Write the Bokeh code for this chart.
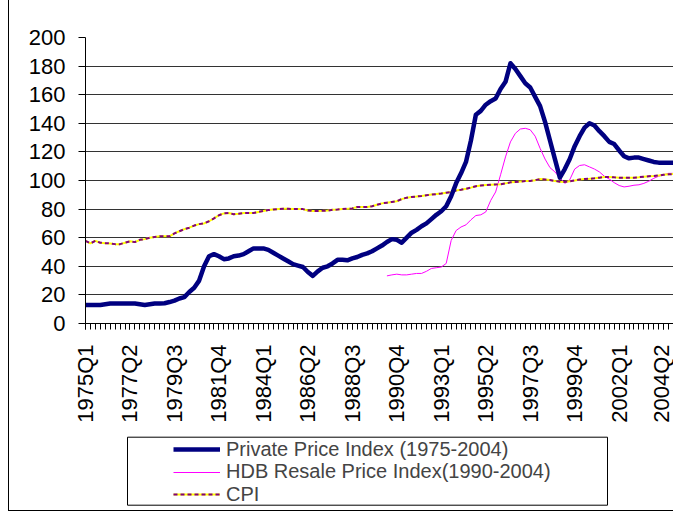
import math
from bokeh.plotting import figure
from bokeh.layouts import column
from bokeh.models import FixedTicker, Legend, LegendItem, Range1d, BoxAnnotation
from bokeh.embed import file_html
from bokeh.resources import INLINE

# ---------------- data ----------------
quarters = [f"{y}Q{q}" for y in range(1975, 2005) for q in range(1, 5)]  # 1975Q1 .. 2004Q4

private_index = [
    13, 13, 13, 13, 13.5, 14, 14, 14, 14, 14,
    14, 13.5, 13, 13.5, 14, 14, 14.2, 15, 16, 17.5,
    18.5, 22, 25, 30, 40, 47, 48.5, 47, 45, 45.5,
    47, 47.5, 48.5, 50.5, 52.5, 52.5, 52.5, 51.5, 49.5, 47.5,
    45.5, 43.5, 41.5, 40.5, 39.5, 36, 33.3, 36.5, 39, 40,
    42, 44.5, 44.5, 44.2, 45.5, 46.5, 48, 49, 50.5, 52.5,
    54.5, 57, 59, 58.5, 56.5, 60, 63.5, 65.5, 68, 70,
    73, 76, 78.5, 82, 89, 98, 105, 113, 128, 146,
    148.7, 153, 155.5, 157.3, 164, 169, 182, 178, 173, 168,
    165, 158.5, 152, 141, 128, 115, 102, 108, 115, 124,
    131, 137, 140, 138.5, 134.5, 131, 127, 125.5, 121, 117,
    115.5, 116, 116, 115, 114, 113, 112.5, 112.5, 112.5, 112.5,
]

hdb_start = "1990Q2"
hdb_index = [
    33.3, 34, 34.5, 34, 34, 34.5, 35, 35, 36.5,
    38.5, 39, 39.5, 42, 58, 65, 67.5, 69, 72.5, 75.5,
    76, 78, 86, 92, 104, 116.5, 127, 133, 136, 136.5,
    135.5, 131, 122.5, 115, 109, 106, 102, 98, 100.5, 108,
    110.5, 111, 109.5, 108, 106, 103, 101, 98.5, 96.5, 95.5,
    96, 96.7, 97, 98, 99.5, 101.5, 103, 104, 105, 105,
]

cpi = [
    57.8, 56, 57.8, 56.5, 56.2, 56, 55.5, 55.5, 56.5, 57.5,
    56.9, 58.5, 59, 60, 60.5, 61, 61, 61, 63, 64.5,
    66, 67, 68.5, 69.5, 70, 71.5, 73.5, 75.7, 77, 77.3,
    76.4, 76.8, 77.3, 77.3, 77.3, 78, 78.7, 79.3, 79.7, 80,
    80.2, 80.2, 80, 80, 80, 79, 78.7, 78.7, 78.8, 79,
    79.5, 79.7, 80, 80.2, 80.5, 81.5, 81.5, 81.5, 82, 83,
    84, 84.5, 85, 85.5, 87, 88, 88.5, 88.8, 89.2, 89.7,
    90.2, 90.5, 90.9, 91.5, 92, 93, 93.5, 94.2, 95, 96,
    96.5, 96.8, 97, 97.2, 97.4, 98, 98.7, 99, 99.3, 99.6,
    99.7, 100.2, 101, 100.7, 100.3, 99.7, 99.2, 99, 99.5, 100,
    100.7, 101, 101.2, 101.5, 102, 102.5, 102.5, 102.2, 102, 102,
    102, 102, 102.3, 102.7, 103, 103.2, 103.5, 104, 104.3, 104.5,
]

y_ticks = [0, 20, 40, 60, 80, 100, 120, 140, 160, 180, 200]
label_step = 9

series_labels = ["Private Price Index (1975-2004)",
                 "HDB Resale Price Index(1990-2004)",
                 "CPI"]

font = "Liberation Sans"
PRIV_COLOR, HDB_COLOR = "#000080", "#FF00FF"
CPI_COLOR, CPI_BACK = "#800080", "#FFFF00"

# ---------------- main chart ----------------
x_idx = list(range(len(quarters)))
hdb_x0 = quarters.index(hdb_start)
hdb_x = list(range(hdb_x0, hdb_x0 + len(hdb_index)))

p = figure(width=665, height=430, output_backend="svg", toolbar_location=None,
           x_range=Range1d(0, 119.2), y_range=Range1d(0, 200),
           min_border_left=76, min_border_right=0, min_border_top=37,
           min_border_bottom=107)
p.styles = {"margin-left": "8px", "border-left": "1px solid black"}
p.outline_line_color = None

p.xgrid.visible = False
p.ygrid.ticker = FixedTicker(ticks=y_ticks)
p.ygrid.grid_line_color = "#333333"
p.ygrid.grid_line_width = 1

yax = p.yaxis[0]
yax.ticker = FixedTicker(ticks=y_ticks)
yax.axis_line_color = "black"
yax.major_tick_out = 7
yax.major_tick_in = 0
yax.minor_tick_line_color = None
yax.major_label_text_font = font
yax.major_label_text_font_size = "22px"
yax.major_label_text_color = "black"
yax.major_label_standoff = 13

xax = p.xaxis[0]
label_ticks = x_idx[::label_step]
xax.ticker = FixedTicker(ticks=label_ticks, minor_ticks=x_idx)
xax.major_label_overrides = {t: quarters[t] for t in label_ticks}
xax.major_label_orientation = math.pi / 2
xax.axis_line_color = "black"
xax.major_tick_out = 6
xax.major_tick_in = 0
xax.minor_tick_out = 6
xax.minor_tick_in = 0
xax.major_label_text_font = font
xax.major_label_text_font_size = "22px"
xax.major_label_text_color = "black"
xax.major_label_standoff = 15

p.line(hdb_x, hdb_index, line_color=HDB_COLOR, line_width=1)
p.line(x_idx, cpi, line_color=CPI_BACK, line_width=2)
p.line(x_idx, cpi, line_color=CPI_COLOR, line_width=2, line_dash="4 3")
p.line(x_idx, private_index, line_color=PRIV_COLOR, line_width=4.5, line_join="round")

# ---------------- legend panel ----------------
# frame of this panel spans the same width as the chart frame (1 unit = 1 px)
lg = figure(width=665, height=81, output_backend="svg", toolbar_location=None,
            x_range=Range1d(0, 589), y_range=Range1d(0, 81),
            x_axis_type=None, y_axis_type=None,
            min_border_left=76, min_border_right=0, min_border_top=0,
            min_border_bottom=0)
lg.styles = {"margin-left": "8px", "border-left": "1px solid black",
             "border-bottom": "1px solid black"}
lg.grid.visible = False
lg.outline_line_color = None

legend_box = BoxAnnotation(left=42, right=522, top=74.3, bottom=6.3,
                           fill_alpha=0, line_color="black", line_width=1,
                           line_alpha=1)
lg.add_layout(legend_box)

nan = float("nan")
k_priv = lg.line([nan], [nan], line_color=PRIV_COLOR, line_width=4.5)
k_hdb = lg.line([nan], [nan], line_color=HDB_COLOR, line_width=1)
k_cpi_y = lg.line([nan], [nan], line_color=CPI_BACK, line_width=2)
k_cpi_p = lg.line([nan], [nan], line_color=CPI_COLOR, line_width=2, line_dash="4 3")

entries = [
    (series_labels[0], [k_priv], 50.3),
    (series_labels[1], [k_hdb], 27.8),
    (series_labels[2], [k_cpi_y, k_cpi_p], 5.3),
]
for label, rends, ypos in entries:
    leg = Legend(items=[LegendItem(label=label, renderers=rends)],
                 location=(88, ypos), padding=0, spacing=0, margin=0,
                 glyph_width=47, glyph_height=20, label_height=20,
                 label_standoff=6, label_text_font=font,
                 label_text_font_size="20px",
                 border_line_color=None, background_fill_alpha=0)
    lg.add_layout(leg, "center")

layout = column(p, lg, spacing=0)
open("out.html", "w").write(file_html(layout, INLINE))
